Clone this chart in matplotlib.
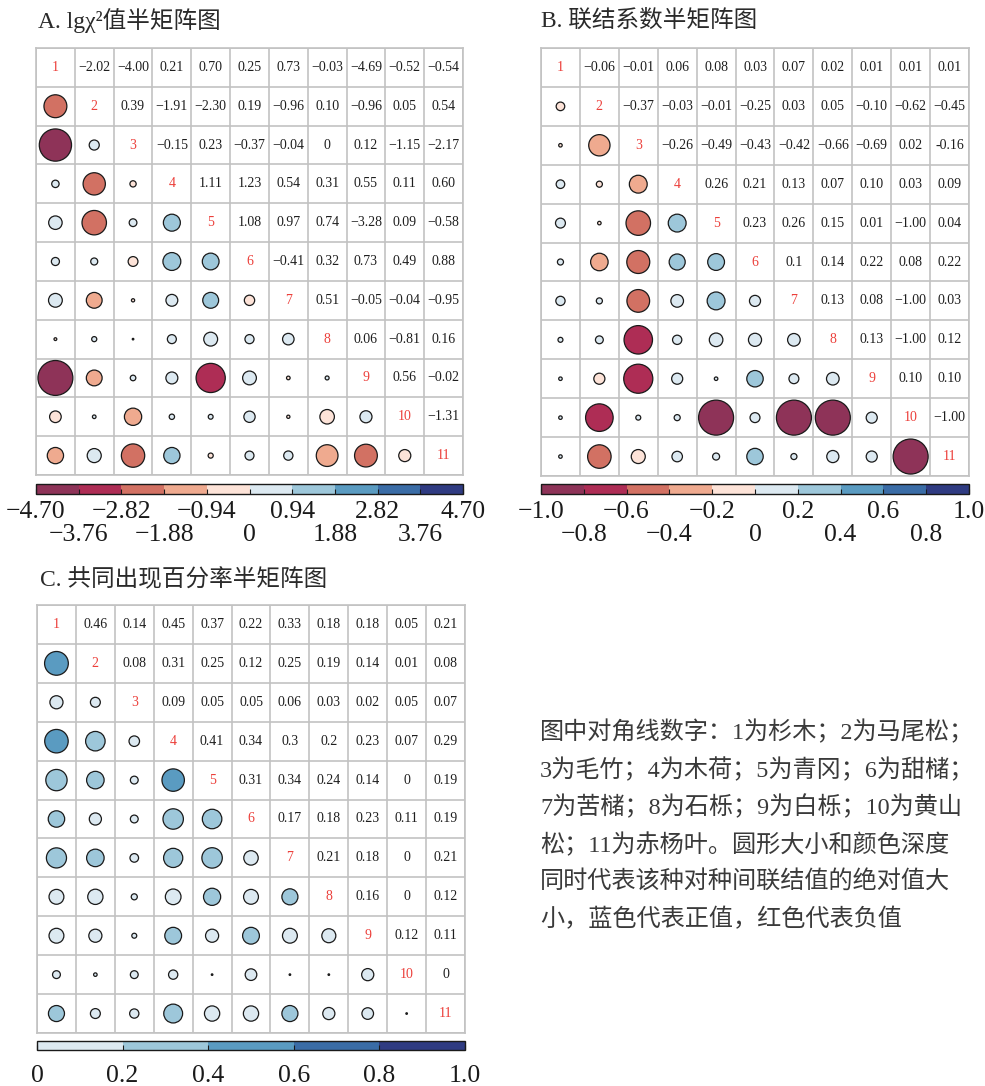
import numpy as np
import matplotlib
matplotlib.use('Agg')
import matplotlib as mpl
import matplotlib.pyplot as plt
from matplotlib.colors import ListedColormap, BoundaryNorm
from matplotlib.patches import Circle
from matplotlib.ticker import FixedLocator, FixedFormatter

# ---------------- data ----------------
diag_labels = [str(i) for i in range(1, 12)]

a_upper = [
    ["−2.02", "−4.00", "0.21", "0.70", "0.25", "0.73", "−0.03", "−4.69", "−0.52", "−0.54"],
    ["0.39", "−1.91", "−2.30", "0.19", "−0.96", "0.10", "−0.96", "0.05", "0.54"],
    ["−0.15", "0.23", "−0.37", "−0.04", "0", "0.12", "−1.15", "−2.17"],
    ["1.11", "1.23", "0.54", "0.31", "0.55", "0.11", "0.60"],
    ["1.08", "0.97", "0.74", "−3.28", "0.09", "−0.58"],
    ["−0.41", "0.32", "0.73", "0.49", "0.88"],
    ["0.51", "−0.05", "−0.04", "−0.95"],
    ["0.06", "−0.81", "0.16"],
    ["0.56", "−0.02"],
    ["−1.31"],
]
# circles of the last row of panel A as drawn (they differ from the mirrored numbers)
a_row11_circles = [-1.02, 0.76, -2.10, 1.02, -0.10, 0.31, 0.33, -1.82, -2.00, -0.56]

b_upper = [
    ["−0.06", "−0.01", "0.06", "0.08", "0.03", "0.07", "0.02", "0.01", "0.01", "0.01"],
    ["−0.37", "−0.03", "−0.01", "−0.25", "0.03", "0.05", "−0.10", "−0.62", "−0.45"],
    ["−0.26", "−0.49", "−0.43", "−0.42", "−0.66", "−0.69", "0.02", "-0.16"],
    ["0.26", "0.21", "0.13", "0.07", "0.10", "0.03", "0.09"],
    ["0.23", "0.26", "0.15", "0.01", "−1.00", "0.04"],
    ["0.1", "0.14", "0.22", "0.08", "0.22"],
    ["0.13", "0.08", "−1.00", "0.03"],
    ["0.13", "−1.00", "0.12"],
    ["0.10", "0.10"],
    ["−1.00"],
]

c_upper = [
    ["0.46", "0.14", "0.45", "0.37", "0.22", "0.33", "0.18", "0.18", "0.05", "0.21"],
    ["0.08", "0.31", "0.25", "0.12", "0.25", "0.19", "0.14", "0.01", "0.08"],
    ["0.09", "0.05", "0.05", "0.06", "0.03", "0.02", "0.05", "0.07"],
    ["0.41", "0.34", "0.3", "0.2", "0.23", "0.07", "0.29"],
    ["0.31", "0.34", "0.24", "0.14", "0", "0.19"],
    ["0.17", "0.18", "0.23", "0.11", "0.19"],
    ["0.21", "0.18", "0", "0.21"],
    ["0.16", "0", "0.12"],
    ["0.12", "0.11"],
    ["0"],
]

a_ticklabels = ["−4.70", "−3.76", "−2.82", "−1.88", "−0.94", "0", "0.94", "1.88", "2.82", "3.76", "4.70"]
b_ticklabels = ["−1.0", "−0.8", "−0.6", "−0.4", "−0.2", "0", "0.2", "0.4", "0.6", "0.8", "1.0"]
c_ticklabels = ["0", "0.2", "0.4", "0.6", "0.8", "1.0"]

titles = ["A. lgχ²值半矩阵图", "B. 联结系数半矩阵图", "C. 共同出现百分率半矩阵图"]
note_lines = [
    "图中对角线数字：1为杉木；2为马尾松；",
    "3为毛竹；4为木荷；5为青冈；6为甜槠；",
    "7为苦槠；8为石栎；9为白栎；10为黄山",
    "松；11为赤杨叶。圆形大小和颜色深度",
    "同时代表该种对种间联结值的绝对值大",
    "小，蓝色代表正值，红色代表负值",
]

div_colors = ['#8E3358', '#AE2D55', '#D27163', '#EFAA8F', '#FDE3D8',
              '#DCE9F1', '#9DC7DA', '#5A9BC1', '#3A6CA6', '#2F3B82']
seq_colors = div_colors[5:]

GRID = '#C2C2C2'
RED = '#EC3F3A'
SERIF = ['Liberation Serif', 'DejaVu Serif']
MIXED = ['Liberation Serif', 'Noto Sans CJK SC', 'DejaVu Sans']

W, H = 985, 1086
fig = plt.figure(figsize=(W / 100, H / 100), dpi=100)


def add_ax(x0, y0, x1, y1):
    return fig.add_axes([x0 / W, 1 - y1 / H, (x1 - x0) / W, (y1 - y0) / H])


def to_float(s):
    return float(s.replace('−', '-'))


def full_matrix(upper, row11=None):
    n = 11
    M = np.zeros((n, n))
    for i, row in enumerate(upper):
        for k, s in enumerate(row):
            j = i + 1 + k
            M[i, j] = to_float(s)
            M[j, i] = to_float(s)
    if row11 is not None:
        for j, v in enumerate(row11):
            M[10, j] = v
    return M


def color_index(v, lo, hi, n):
    x = (v - lo) / (hi - lo) * n
    idx = int(np.ceil(x - 1e-9)) - 1
    return min(max(idx, 0), n - 1)


def draw_matrix(ax, upper, M, lo, hi, colors, vmax):
    n = 11
    cmap = ListedColormap(colors)
    ax.set_xlim(0, n)
    ax.set_ylim(n, 0)
    ax.set_xticks(np.arange(n + 1))
    ax.set_yticks(np.arange(n + 1))
    ax.grid(True, color=GRID, lw=1.2)
    ax.set_axisbelow(True)
    ax.tick_params(length=0, labelbottom=False, labelleft=False)
    for sp in ax.spines.values():
        sp.set_color(GRID)
        sp.set_linewidth(1.2)
    for i in range(n):
        ax.text(i + 0.5, i + 0.5, diag_labels[i], color=RED, fontsize=10,
                family=SERIF, ha='center', va='center')
    for i, row in enumerate(upper):
        for k, s in enumerate(row):
            j = i + 1 + k
            ax.text(j + 0.5, i + 0.5, s, color='#1E1E1E', fontsize=10,
                    family=SERIF, ha='center', va='center')
    for i in range(n):
        for j in range(i):
            v = M[i, j]
            r = 0.45 * np.sqrt(abs(v) / vmax)
            r = max(r, 0.02)
            fc = cmap(color_index(v, lo, hi, len(colors)))
            ax.add_patch(Circle((j + 0.5, i + 0.5), r, facecolor=fc,
                                edgecolor='#1A1A1A', lw=0.9, zorder=3))


def draw_cbar(cax, lo, hi, colors, labels, stagger, pad, size=18.5):
    cmap = ListedColormap(colors)
    bounds = np.linspace(lo, hi, len(colors) + 1)
    norm = BoundaryNorm(bounds, cmap.N)
    cb = fig.colorbar(mpl.cm.ScalarMappable(norm=norm, cmap=cmap), cax=cax,
                      orientation='horizontal')
    cb.outline.set_linewidth(1.0)
    cb.outline.set_edgecolor('#1A1A1A')
    if stagger:
        major = bounds[0::2]
        minor = bounds[1::2]
        cax.xaxis.set_major_locator(FixedLocator(major))
        cax.xaxis.set_major_formatter(FixedFormatter(labels[0::2]))
        cax.xaxis.set_minor_locator(FixedLocator(minor))
        cax.xaxis.set_minor_formatter(FixedFormatter(labels[1::2]))
        cax.tick_params(axis='x', which='minor', direction='in', length=3.5,
                        width=0.8, pad=pad + 16.8, labelsize=size, colors='#1A1A1A')
    else:
        cax.xaxis.set_major_locator(FixedLocator(bounds))
        cax.xaxis.set_major_formatter(FixedFormatter(labels))
    cax.tick_params(axis='x', which='major', direction='in', length=3.5, width=0.8,
                    pad=pad, labelsize=size, colors='#1A1A1A')
    for t in cax.get_xticklabels(which='both'):
        t.set_family(SERIF)


MA = full_matrix(a_upper, a_row11_circles)
MB = full_matrix(b_upper)
MC = full_matrix(c_upper)

axA = add_ax(36, 48, 463, 475)
draw_matrix(axA, a_upper, MA, -4.70, 4.70, div_colors, 4.70)
axB = add_ax(541, 48, 969, 476)
draw_matrix(axB, b_upper, MB, -1.0, 1.0, div_colors, 1.0)
axC = add_ax(37, 605, 465, 1033)
draw_matrix(axC, c_upper, MC, 0.0, 1.0, seq_colors, 1.0)

draw_cbar(add_ax(36, 484, 463, 494), -4.70, 4.70, div_colors, a_ticklabels, True, 5)
draw_cbar(add_ax(541, 484, 969, 494), -1.0, 1.0, div_colors, b_ticklabels, True, 5)
draw_cbar(add_ax(37, 1041, 465, 1050), 0.0, 1.0, seq_colors, c_ticklabels, False, 11)

title_pos = [(38, 21), (541, 21), (40, 580)]
for (x, y), t in zip(title_pos, titles):
    fig.text(x / W, 1 - y / H, t, fontsize=17, family=MIXED, color='#2A2A2A',
             ha='left', va='center')

for k, line in enumerate(note_lines):
    y = 732 + k * 37.6
    fig.text(540 / W, 1 - y / H, line, fontsize=17.4, family=MIXED, color='#3A3A3A',
             ha='left', va='center')

fig.savefig('out.png', dpi=100, facecolor='white')
